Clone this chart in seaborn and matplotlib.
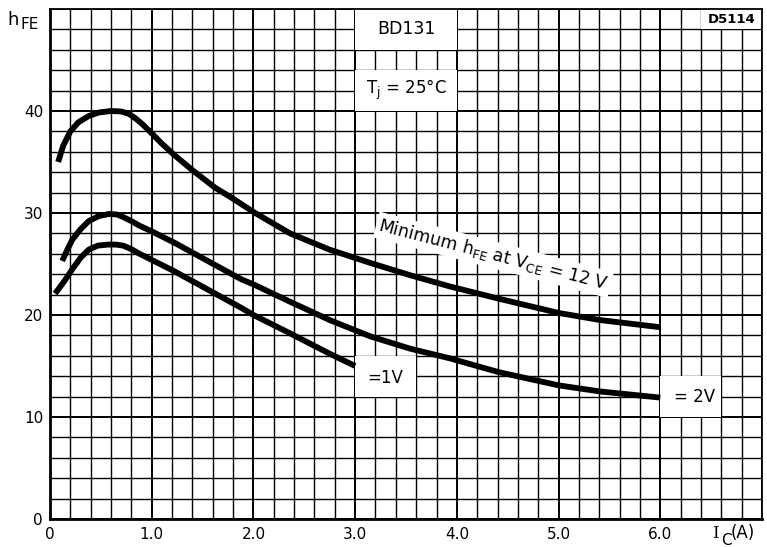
import numpy as np
import pandas as pd
import matplotlib
matplotlib.use("Agg")
import matplotlib.pyplot as plt
from matplotlib.patches import Rectangle
import seaborn as sns

# ---- data ----
ic_12v = [0.08, 0.13, 0.2, 0.28, 0.38, 0.48, 0.6, 0.7, 0.78, 0.85, 0.92, 1.0, 1.1, 1.22, 1.4, 1.62, 1.8, 2.0, 2.36, 2.75, 3.15, 3.54, 3.93, 4.41, 5.0, 5.41, 6.0]
hfe_12v = [35.0, 36.6, 38.0, 38.9, 39.5, 39.85, 40.0, 39.95, 39.7, 39.2, 38.6, 37.8, 36.8, 35.7, 34.2, 32.5, 31.4, 30.1, 28.0, 26.4, 25.1, 23.9, 22.8, 21.6, 20.2, 19.5, 18.8]

ic_2v = [0.12, 0.17, 0.22, 0.3, 0.38, 0.48, 0.58, 0.66, 0.72, 0.8, 0.88, 1.0, 1.22, 1.55, 1.88, 2.0, 2.36, 2.75, 3.15, 3.54, 3.93, 4.41, 5.0, 5.41, 6.0]
hfe_2v = [25.3, 26.4, 27.4, 28.4, 29.2, 29.7, 29.9, 29.85, 29.6, 29.2, 28.75, 28.2, 27.1, 25.3, 23.5, 23.0, 21.3, 19.5, 17.9, 16.7, 15.75, 14.4, 13.1, 12.5, 11.9]

ic_1v = [0.05, 0.14, 0.22, 0.3, 0.38, 0.47, 0.57, 0.65, 0.72, 0.8, 0.88, 1.0, 1.22, 1.55, 1.88, 2.0, 2.36, 2.75, 3.0]
hfe_1v = [22.1, 23.3, 24.5, 25.6, 26.4, 26.8, 26.9, 26.9, 26.8, 26.45, 26.0, 25.4, 24.3, 22.5, 20.7, 20.0, 18.2, 16.2, 15.0]

x_tick_vals = [0, 1, 2, 3, 4, 5, 6, 7]
x_tick_labels = ["0", "1.0", "2.0", "3.0", "4.0", "5.0", "6.0", ""]
y_tick_vals = [0, 10, 20, 30, 40, 50]
y_tick_labels = ["0", "10", "20", "30", "40", ""]

df = pd.concat([
    pd.DataFrame({"ic": ic_12v, "hfe": hfe_12v, "series": "12V"}),
    pd.DataFrame({"ic": ic_2v, "hfe": hfe_2v, "series": "2V"}),
    pd.DataFrame({"ic": ic_1v, "hfe": hfe_1v, "series": "1V"}),
], ignore_index=True)

sns.set_style("white")
plt.rcParams["font.family"] = ["DejaVu Sans"]
plt.rcParams["text.color"] = "black"
plt.rcParams["axes.labelcolor"] = "black"
plt.rcParams["xtick.color"] = "black"
plt.rcParams["ytick.color"] = "black"
plt.rcParams["lines.solid_joinstyle"] = "round"

fig = plt.figure(figsize=(7.67, 5.47), dpi=100)
ax = fig.add_axes([0.0652, 0.0512, 0.9283, 0.9324])

sns.lineplot(data=df, x="ic", y="hfe", units="series", estimator=None,
             sort=False, color="black", lw=4.2, ax=ax, zorder=3,
             solid_capstyle="butt", solid_joinstyle="round")

ax.set_xlim(0, 7.0)
ax.set_ylim(0, 50)
ax.set_xticks(x_tick_vals)
ax.set_xticklabels(x_tick_labels)
ax.set_yticks(y_tick_vals)
ax.set_yticklabels(y_tick_labels)
ax.set_xticks(np.arange(0, 7.01, 0.2), minor=True)
ax.set_yticks(np.arange(0, 50.1, 2), minor=True)
ax.set_axisbelow(True)
ax.grid(which="major", color="black", lw=1.4)
ax.grid(which="minor", color="black", lw=1.0)
ax.tick_params(which="both", length=0, labelsize=11, colors="black")
ax.tick_params(axis="x", pad=6)
ax.tick_params(axis="y", pad=5)
ax.set_xlabel("")
ax.set_ylabel("")
for s in ax.spines.values():
    s.set_visible(True)
    s.set_color("black")
    s.set_linewidth(1.3)
ax.spines["left"].set_linewidth(2.0)
ax.spines["bottom"].set_linewidth(2.0)

# white label boxes covering the grid
def wbox(x0, y0, w, h):
    ax.add_patch(Rectangle((x0, y0), w, h, facecolor="white", edgecolor="none", zorder=1))

wbox(3.0, 46, 1.0, 4)
wbox(3.0, 40, 1.0, 4)
wbox(6.4, 48, 0.6, 2)
wbox(3.0, 12, 0.6, 4)
wbox(6.0, 10, 0.6, 4)

ax.text(3.5, 48.0, "BD131", ha="center", va="center", fontsize=12.5, zorder=4)
ax.text(3.5, 42.1, r"$\mathregular{T_j}$ = 25°C", ha="center", va="center", fontsize=12, zorder=4)
ax.text(6.7, 48.95, "D5114", ha="center", va="center", fontsize=9.5, fontweight="bold", zorder=4)
ax.text(3.3, 13.8, "=1V", ha="center", va="center", fontsize=12, zorder=4)
ax.text(6.34, 12.0, "= 2V", ha="center", va="center", fontsize=12, zorder=4)
ax.text(4.36, 25.9, r"Minimum $\mathregular{h_{FE}}$ at $\mathregular{V_{CE}}$ = 12 V",
        ha="center", va="center", rotation=-14.5, rotation_mode="anchor",
        fontsize=12.5, zorder=2,
        bbox=dict(facecolor="white", edgecolor="none", pad=2))

# axis labels
fig.text(7 / 767, 1 - 25 / 547, "h", fontsize=13, ha="left", va="baseline")
fig.text(20 / 767, 1 - 29 / 547, "FE", fontsize=11, ha="left", va="baseline")
fig.text(712 / 767, 1 - 538 / 547, "I", fontsize=12, ha="left", va="baseline", family="DejaVu Serif")
fig.text(721 / 767, 1 - 545 / 547, "C", fontsize=11, ha="left", va="baseline")
fig.text(731 / 767, 1 - 538 / 547, "(A)", fontsize=12, ha="left", va="baseline")

fig.savefig("out.png", dpi=100)
